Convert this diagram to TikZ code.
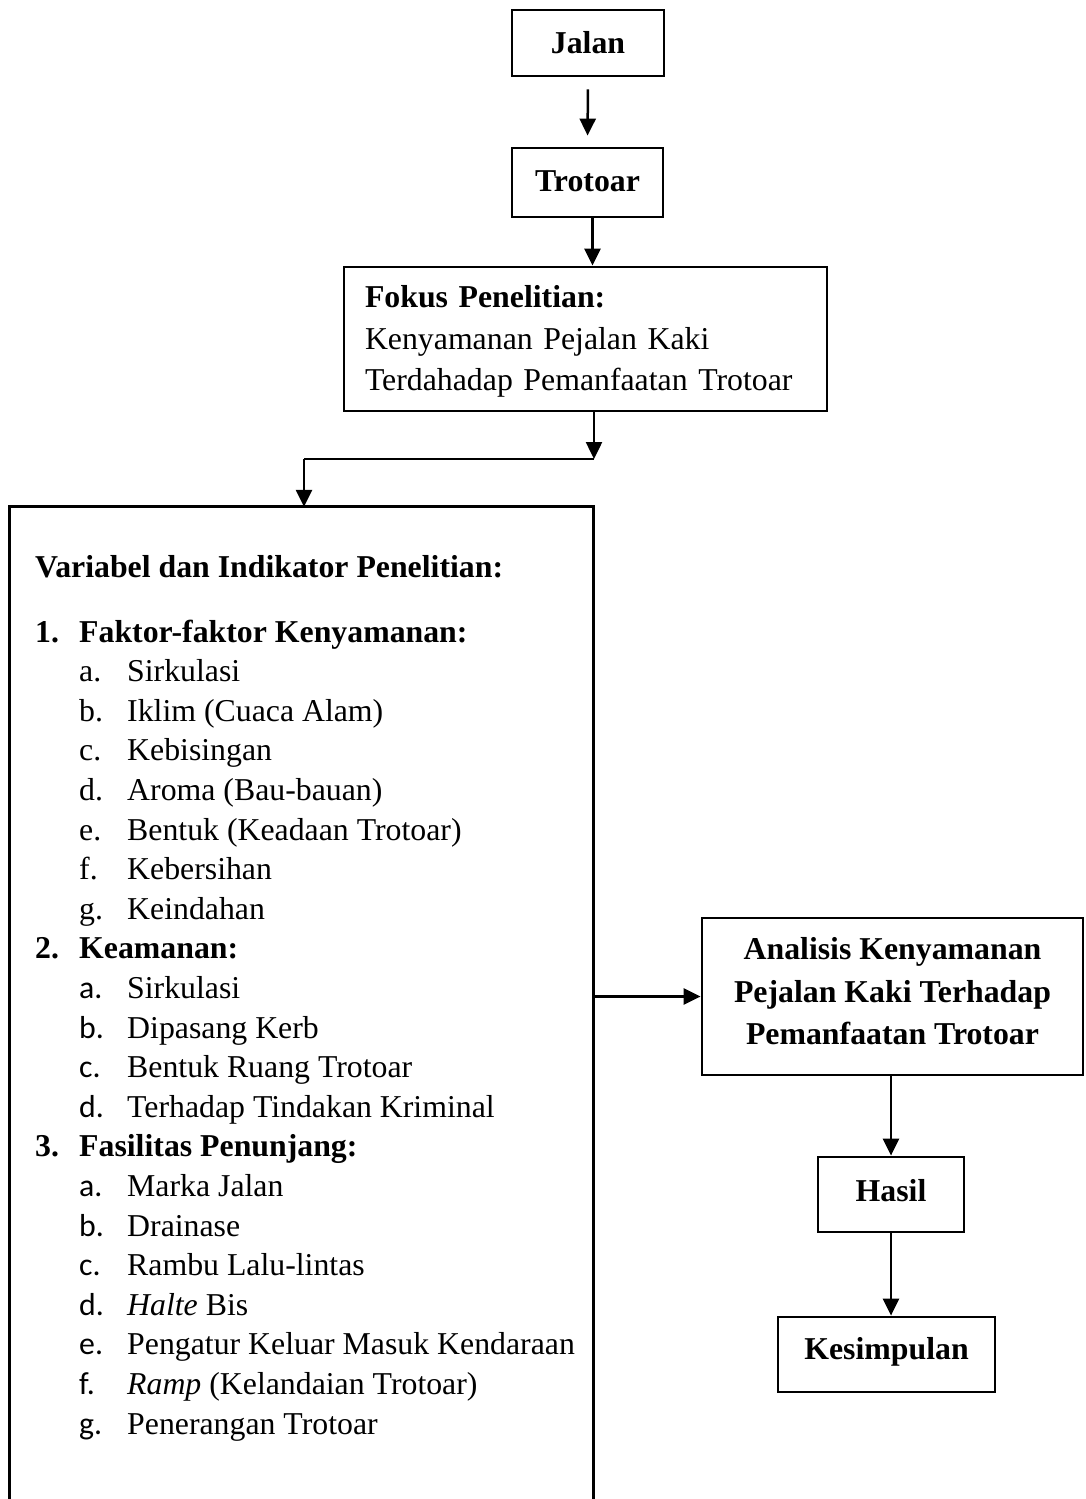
\documentclass[tikz,border=0pt]{standalone}
\usepackage{fontspec}
\setmainfont{Liberation Serif}
\newfontfamily\calib{Carlito}
\usetikzlibrary{arrows.meta}
\newcommand\myfs{\fontsize{31.8pt}{39.6pt}\selectfont}
\begin{document}
\begin{tikzpicture}[x=1pt,y=-1pt,
  every node/.style={font=\myfs},
  box/.style={draw, line width=2.8pt, inner sep=0pt, align=center},
  arr/.style={line width=2.5pt, -{Triangle[length=17pt,width=16pt]}},
  conn/.style={line width=2.5pt},
  txt/.style={anchor=base west, inner sep=0pt},
  bold/.style={font=\myfs\bfseries},
  sfl/.style={font=\myfs\calib},
]
\useasboundingbox (0,0) rectangle (1085,1499);
% boxes
\node[box, bold, minimum width=152pt, minimum height=66pt, text depth=2pt] (jalan) at (588,43) {Jalan};
\node[box, bold, minimum width=151pt, minimum height=69pt, text depth=2pt] (trotoar) at (587.5,182.5) {Trotoar};
\node[box, align=left, minimum height=144pt, text width=441pt, inner xsep=21pt, text height=27.7pt,
      font=\fontsize{31.8pt}{41.5pt}\selectfont] (fokus) at (585.5,339)
  {\textbf{Fokus Penelitian:}\\Kenyamanan Pejalan Kaki\\Terdahadap Pemanfaatan Trotoar};
\node[minimum width=583pt, minimum height=996pt, inner sep=0pt] (big) at (301.5,1005) {};
\draw[line width=2.8pt] (big.south west) -- (big.north west) -- (big.north east) -- (big.south east);
\node[box, minimum width=381pt, minimum height=157pt, text depth=11pt,
      font=\fontsize{31.8pt}{42.5pt}\selectfont\bfseries] (analisis) at (892.5,996.5)
  {Analisis Kenyamanan\\Pejalan Kaki Terhadap\\Pemanfaatan Trotoar};
\node[box, bold, minimum width=146pt, minimum height=75pt, text depth=8pt] (hasil) at (891,1194.5) {Hasil};
\node[box, bold, minimum width=217pt, minimum height=75pt, text depth=13pt] (kesimpulan) at (886.5,1354.5) {Kesimpulan};
% connectors
\coordinate (j1) at (594,459);
\coordinate (j2) at (304,459);
\draw[arr, shorten <=12pt, shorten >=11pt] (jalan.south) -- (trotoar.north);
\draw[arr] ([xshift=5pt]trotoar.south) -- ([xshift=5pt]trotoar.south |- fokus.north);
\draw[arr] (fokus.south -| j1) -- (j1);
\draw[conn] (j1) -- (j2);
\draw[arr] (j2) -- (j2 |- big.north);
\draw[arr] (analisis.west -| big.east) -- (analisis.west);
\draw[arr] (analisis.south -| hasil.north) -- (hasil.north);
\draw[arr] (hasil.south) -- (hasil.south |- kesimpulan.north);
% list text
\node[txt, bold] (hv) at (35,577) {Variabel dan Indikator Penelitian:};
\node[txt, bold] (n1) at (35,642) {1.};
\node[txt, bold] (h1) at (79,642) {Faktor-faktor Kenyamanan:};
\node[txt] (l1a) at (79,681.6) {a.}; \node[txt] (t1a) at (127,681.6) {Sirkulasi};
\node[txt] (l1b) at (79,721.2) {b.}; \node[txt] (t1b) at (127,721.2) {Iklim (Cuaca Alam)};
\node[txt] (l1c) at (79,760.8) {c.}; \node[txt] (t1c) at (127,760.8) {Kebisingan};
\node[txt] (l1d) at (79,800.4) {d.}; \node[txt] (t1d) at (127,800.4) {Aroma (Bau-bauan)};
\node[txt] (l1e) at (79,840.0) {e.}; \node[txt] (t1e) at (127,840.0) {Bentuk (Keadaan Trotoar)};
\node[txt] (l1f) at (79,879.6) {f.}; \node[txt] (t1f) at (127,879.6) {Kebersihan};
\node[txt] (l1g) at (79,919.2) {g.}; \node[txt] (t1g) at (127,919.2) {Keindahan};
\node[txt, bold] (n2) at (35,958.8) {2.};
\node[txt, bold] (h2) at (79,958.8) {Keamanan:};
\node[txt, sfl] (l2a) at (79,998.4) {a.}; \node[txt] (t2a) at (127,998.4) {Sirkulasi};
\node[txt, sfl] (l2b) at (79,1038.0) {b.}; \node[txt] (t2b) at (127,1038.0) {Dipasang Kerb};
\node[txt, sfl] (l2c) at (79,1077.6) {c.}; \node[txt] (t2c) at (127,1077.6) {Bentuk Ruang Trotoar};
\node[txt, sfl] (l2d) at (79,1117.2) {d.}; \node[txt] (t2d) at (127,1117.2) {Terhadap Tindakan Kriminal};
\node[txt, bold] (n3) at (35,1156.8) {3.};
\node[txt, bold] (h3) at (79,1156.8) {Fasilitas Penunjang:};
\node[txt, sfl] (l3a) at (79,1196.4) {a.}; \node[txt] (t3a) at (127,1196.4) {Marka Jalan};
\node[txt, sfl] (l3b) at (79,1236.0) {b.}; \node[txt] (t3b) at (127,1236.0) {Drainase};
\node[txt, sfl] (l3c) at (79,1275.6) {c.}; \node[txt] (t3c) at (127,1275.6) {Rambu Lalu-lintas};
\node[txt, sfl] (l3d) at (79,1315.2) {d.}; \node[txt] (t3d) at (127,1315.2) {\textit{Halte} Bis};
\node[txt, sfl] (l3e) at (79,1354.8) {e.}; \node[txt] (t3e) at (127,1354.8) {Pengatur Keluar Masuk Kendaraan};
\node[txt, sfl] (l3f) at (79,1394.4) {f.}; \node[txt] (t3f) at (127,1394.4) {\textit{Ramp} (Kelandaian Trotoar)};
\node[txt, sfl] (l3g) at (79,1434.0) {g.}; \node[txt] (t3g) at (127,1434.0) {Penerangan Trotoar};
\end{tikzpicture}
\end{document}
